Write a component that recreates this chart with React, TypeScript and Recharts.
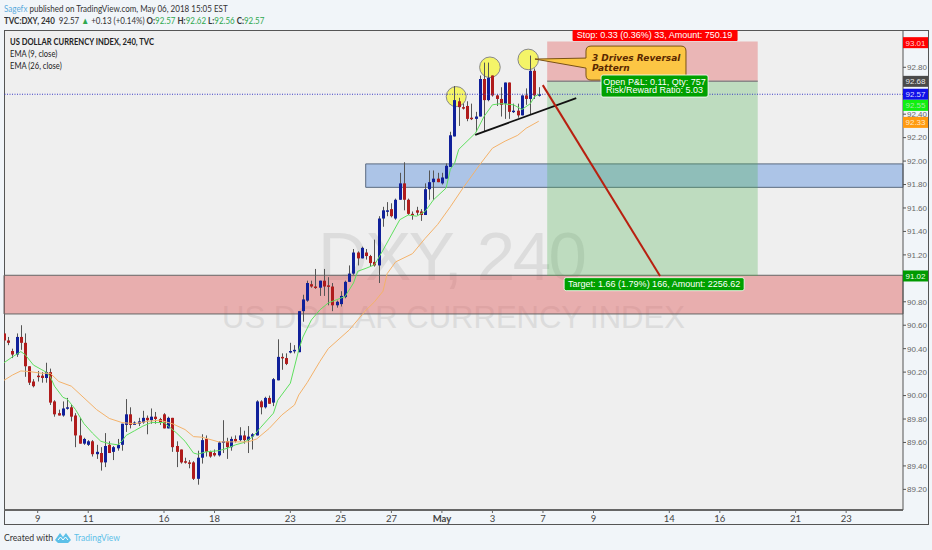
import { ComposedChart, Bar, Line, XAxis, YAxis, ReferenceArea, ReferenceLine, ReferenceDot } from "recharts";

const opens = [
  90.53,90.47,90.38,90.35,90.50,90.45,90.25,90.12,90.17,90.17,
  90.15,90.20,89.95,89.85,89.83,89.89,89.90,89.83,89.66,89.59,
  89.58,89.61,89.50,89.51,89.43,89.58,89.52,89.55,89.58,89.75,
  89.84,89.75,89.76,89.77,89.81,89.79,89.82,89.80,89.84,89.72,
  89.81,89.57,89.54,89.44,89.43,89.43,89.29,89.47,89.63,89.52,
  89.51,89.49,89.60,89.61,89.56,89.63,89.62,89.66,89.62,89.65,
  89.66,89.95,89.90,89.98,89.94,90.13,90.33,90.32,90.37,90.38,
  90.37,90.72,90.81,90.95,90.93,90.92,90.98,90.94,90.93,90.77,
  90.78,90.84,90.97,91.04,91.22,91.17,91.22,91.19,91.14,91.11,
  91.51,91.57,91.59,91.51,91.67,91.81,91.67,91.55,91.58,91.57,
  91.54,91.76,91.82,91.85,91.81,91.85,91.95,92.21,92.51,92.46,
  92.47,92.37,92.36,92.38,92.70,92.52,92.73,92.56,92.53,92.49,
  92.67,92.42,92.43,92.39,92.56,92.53,92.77,92.56,
];
const closes = [
  90.47,90.45,90.35,90.50,90.45,90.25,90.11,90.08,90.16,90.15,
  90.20,89.94,89.84,89.83,89.89,89.90,89.82,89.66,89.59,89.63,
  89.61,89.50,89.52,89.43,89.57,89.51,89.56,89.58,89.76,89.84,
  89.75,89.77,89.78,89.81,89.79,89.82,89.80,89.77,89.72,89.81,
  89.56,89.52,89.43,89.43,89.42,89.29,89.47,89.62,89.52,89.48,
  89.49,89.60,89.61,89.56,89.63,89.61,89.66,89.62,89.65,89.67,
  89.95,89.90,89.98,89.93,90.14,90.33,90.32,90.27,90.38,90.39,
  90.72,90.82,90.96,90.93,90.92,90.98,90.93,90.93,90.77,90.80,
  90.85,90.97,91.04,91.22,91.17,91.26,91.19,91.13,91.11,91.51,
  91.58,91.58,91.53,91.67,91.81,91.67,91.55,91.54,91.56,91.54,
  91.76,91.82,91.85,91.82,91.86,91.96,92.22,92.52,92.46,92.45,
  92.36,92.36,92.38,92.70,92.52,92.71,92.56,92.53,92.48,92.67,
  92.42,92.43,92.39,92.56,92.53,92.77,92.56,92.57,
];
const highs = [
  90.54,90.50,90.40,90.53,90.60,90.53,90.25,90.14,90.21,90.20,
  90.28,90.23,89.96,89.88,89.95,89.98,89.92,89.85,89.81,89.64,
  89.62,89.62,89.58,89.56,89.68,89.61,89.57,89.63,89.76,89.97,
  89.90,89.78,89.81,89.87,89.83,89.89,89.86,89.81,89.85,89.82,
  89.81,89.61,89.54,89.47,89.45,89.44,89.53,89.67,89.66,89.53,
  89.54,89.61,89.79,89.64,89.65,89.66,89.73,89.70,89.74,89.68,
  89.96,89.96,89.99,90.00,90.15,90.48,90.36,90.36,90.45,90.43,
  90.72,90.86,90.98,90.98,91.08,90.98,91.08,91.01,90.96,90.81,
  90.89,90.98,91.11,91.25,91.23,91.27,91.25,91.20,91.33,91.53,
  91.61,91.65,91.64,91.68,91.90,91.99,91.68,91.57,91.61,91.59,
  91.81,91.92,91.92,91.90,91.90,91.98,92.25,92.64,92.54,92.49,
  92.51,92.49,92.42,92.73,92.84,92.84,92.73,92.57,92.63,92.67,
  92.67,92.49,92.49,92.56,92.62,92.90,92.79,92.63,
];
const lows = [
  90.46,90.43,90.32,90.33,90.39,90.16,90.09,90.07,90.12,90.11,
  90.11,89.92,89.82,89.83,89.82,89.88,89.78,89.56,89.59,89.58,
  89.57,89.48,89.46,89.36,89.39,89.51,89.45,89.53,89.53,89.69,
  89.72,89.75,89.74,89.76,89.67,89.76,89.76,89.75,89.72,89.72,
  89.52,89.39,89.42,89.42,89.38,89.28,89.24,89.42,89.48,89.47,
  89.48,89.48,89.51,89.46,89.53,89.60,89.61,89.59,89.51,89.54,
  89.66,89.84,89.89,89.93,89.91,90.13,90.22,90.26,90.36,90.36,
  90.37,90.63,90.80,90.92,90.91,90.85,90.85,90.77,90.72,90.75,
  90.76,90.83,90.97,91.03,91.11,91.17,91.16,91.10,91.10,90.96,
  91.44,91.53,91.52,91.50,91.67,91.58,91.54,91.50,91.54,91.49,
  91.54,91.67,91.67,91.82,91.80,91.85,91.95,92.21,92.30,92.44,
  92.34,92.35,92.25,92.38,92.25,92.51,92.55,92.47,92.38,92.36,
  92.36,92.41,92.37,92.39,92.48,92.40,92.53,92.55,
];

// ema values at the bars where the line is visible
const ema9: [number, number][] = [
  [0,90.28],[2,90.33],[4,90.375],[5,90.35],[7,90.26],[9,90.22],[10,90.20],[11,90.16],[12,90.08],[14,89.985],
  [15,89.97],[17,89.88],[19,89.76],[21,89.68],[23,89.61],[25,89.59],[27,89.58],[28,89.61],[29,89.66],[31,89.70],
  [33,89.74],[35,89.77],[38,89.77],[39,89.74],[41,89.68],[43,89.61],[45,89.51],[46,89.50],[48,89.52],[51,89.53],
  [53,89.55],[55,89.58],[57,89.60],[59,89.645],[61,89.73],[64,89.85],[65,89.96],[68,90.105],[70,90.39],[71,90.50],
  [73,90.645],[75,90.73],[77,90.79],[81,90.845],[83,90.96],[84,91.06],[86,91.086],[88,91.115],[90,91.24],[92,91.37],
  [94,91.50],[96,91.54],[98,91.53],[100,91.57],[102,91.67],[105,91.77],[106,91.93],[107,91.98],[108,92.10],[112,92.24],
  [114,92.38],[116,92.48],[118,92.49],[121,92.48],[123,92.44],[125,92.49],[126,92.55],[127,92.57],
];
const ema26: [number, number][] = [
  [0,90.13],[2,90.175],[4,90.21],[6,90.205],[9,90.19],[11,90.19],[13,90.12],[16,90.08],[19,89.98],[22,89.88],
  [25,89.805],[28,89.77],[31,89.76],[34,89.78],[37,89.79],[40,89.76],[43,89.71],[45,89.65],[47,89.645],[51,89.605],
  [54,89.605],[58,89.605],[60,89.63],[63,89.72],[66,89.835],[69,89.92],[70,90.005],[72,90.11],[75,90.29],[77,90.40],
  [82,90.56],[86,90.73],[88,90.80],[90,90.89],[91,91.04],[93,91.14],[97,91.21],[100,91.34],[103,91.46],[106,91.61],
  [109,91.77],[113,91.97],[116,92.11],[119,92.17],[122,92.22],[124,92.28],[127,92.34],
];

const xTicks = [8, 20, 38, 50, 68, 80, 92, 104, 116, 128, 140, 158, 170, 188, 200];
const xLabels = ["9", "11", "16", "18", "23", "25", "27", "May", "3", "7", "9", "14", "16", "21", "23"];
// 91.00 and 92.60 sit fully behind the price tags in the original
const yTicks = [89.2, 89.4, 89.6, 89.8, 90, 90.2, 90.4, 90.6, 90.8, 91.2, 91.4, 91.6, 91.8, 92, 92.2, 92.4, 92.8];

const priceTags = [
  { price: 93.01, bg: "#ff0000", color: "#ffd0d0" },
  { price: 92.68, bg: "#4a4a4a", color: "#e8e8e8" },
  { price: 92.57, bg: "#1010e8", color: "#d8d8ff" },
  { price: 92.55, bg: "#10f010", color: "#a8e8a8", y: 92.475 },
  { price: 92.33, bg: "#ff9a10", color: "#ffe8c8" },
  { price: 91.02, bg: "#009a00", color: "#e8ffe8" },
];

const XMAX = 213.5;
const FONT = "Lato, 'Open Sans', sans-serif";
const BADGE_FONT = "'Liberation Sans', Arial, sans-serif";

const data = opens.map((o, i) => ({
  i,
  o,
  c: closes[i],
  h: highs[i],
  l: lows[i],
  ema9: ema9.find((p) => p[0] === i)?.[1] ?? null,
  ema26: ema26.find((p) => p[0] === i)?.[1] ?? null,
}));

function Candle(props: any) {
  const { x, y, width, height, payload } = props;
  const { o, c, h, l } = payload;
  const ppu = height / (h - l);
  const top = y + (h - Math.max(o, c)) * ppu;
  const bodyH = Math.max(Math.abs(o - c) * ppu, 1.5);
  const up = c >= o;
  const left = Math.round(x);
  return (
    <g>
      <rect x={left + 1} y={y} width={1} height={height} fill="#555" />
      <rect x={left} y={top} width={width} height={bodyH} fill={up ? "#10209a" : "#b01c1c"} />
    </g>
  );
}

function TimeTick({ x, y, payload }: any) {
  const k = xTicks.indexOf(payload.value);
  const label = xLabels[k];
  return (
    <text x={x} y={y + 7} textAnchor="middle" fontSize={9.5} fontFamily={FONT} fontWeight={label === "May" ? 700 : 400} fill="#444">
      {label}
    </text>
  );
}

function PriceTag({ cx, cy, bg, color, price }: any) {
  return (
    <g>
      <rect x={cx} y={cy - 5.5} width={25} height={11} fill={bg} />
      <text x={cx + 12.5} y={cy + 3} textAnchor="middle" fontSize={8} fontFamily={BADGE_FONT} fill={color}>
        {price.toFixed(2)}
      </text>
    </g>
  );
}

function Callout({ cx, cy }: any) {
  // cx, cy is the tip of the pointer
  const l = cx + 51, r = cx + 151, t = cy - 13, b = cy + 21;
  return (
    <g>
      <path
        d={`M${l + 5} ${t} H${r - 5} Q${r} ${t} ${r} ${t + 5} V${b - 5} Q${r} ${b} ${r - 5} ${b} H${l + 5} Q${l} ${b} ${l} ${b - 5} V${cy + 9} L${cx} ${cy} L${l} ${cy - 1} V${t + 5} Q${l} ${t} ${l + 5} ${t} Z`}
        fill="#fcc644"
        stroke="#7a5214"
        strokeWidth={1}
      />
      <text fontFamily="'DejaVu Sans', sans-serif" fontSize={9} fontWeight={700} fontStyle="italic" fill="#5a2800">
        <tspan x={l + 6} y={cy + 2}>3 Drives Reversal</tspan>
        <tspan x={l + 6} y={cy + 12}>Pattern</tspan>
      </text>
    </g>
  );
}

function GreenBadge({ cx, cy, w, h, lines }: any) {
  return (
    <g>
      <rect x={cx - w / 2} y={cy - h / 2} width={w} height={h} rx={2} fill="#00a000" stroke="#fff" strokeWidth={0.8} />
      {lines.map((t: string, k: number) => (
        <text key={t} x={cx} y={cy - (lines.length - 1) * 4.2 + k * 8.4 + 3.1} textAnchor="middle" fontSize={9} fontFamily={BADGE_FONT} fill="#fff">
          {t}
        </text>
      ))}
    </g>
  );
}

export default function App() {
  const squeeze = (s: number) => ({ transform: `scaleX(${s})`, transformOrigin: "left top" });
  return (
    <div style={{ position: "absolute", left: 0, top: 0, width: 932, height: 550, background: "#f1f5f9", overflow: "hidden", fontFamily: FONT }}>
      <div style={{ position: "absolute", left: 4, top: 3, fontSize: 9.5, color: "#333", whiteSpace: "nowrap", ...squeeze(0.845) }}>
        <span style={{ color: "#5cabdc" }}>Sagefx</span> published on TradingView.com, May 06, 2018 15:05 EST
      </div>
      <div style={{ position: "absolute", left: 4, top: 15, fontSize: 9.5, color: "#333", whiteSpace: "nowrap", ...squeeze(0.838) }}>
        <b>TVC:DXY, 240</b> &nbsp;92.57 <span style={{ color: "#2fa84f" }}>▲</span> +0.13 (+0.14%) <b>O:</b><span style={{ color: "#2fa84f" }}>92.57</span> <b>H:</b><span style={{ color: "#2fa84f" }}>92.62</span> <b>L:</b><span style={{ color: "#2fa84f" }}>92.56</span> <b>C:</b><span style={{ color: "#2fa84f" }}>92.57</span>
      </div>

      <div style={{ position: "absolute", left: 4, top: 30, width: 899, height: 480, background: "#efefef" }} />
      <div style={{ position: "absolute", left: 318, top: 216.6, fontSize: 69, letterSpacing: -2.5, color: "#dcdcdc", fontFamily: BADGE_FONT, whiteSpace: "nowrap" }}>DXY, 240</div>
      <div style={{ position: "absolute", left: 222, top: 299.5, fontSize: 31, color: "#dcdcdc", fontFamily: BADGE_FONT, whiteSpace: "nowrap" }}>US DOLLAR CURRENCY INDEX</div>
      <div style={{ position: "absolute", left: 4, top: 30, width: 923, height: 493, border: "1px solid #555" }} />

      <div style={{ position: "absolute", left: 10, top: 36, fontSize: 9.5, color: "#222", lineHeight: "12px", whiteSpace: "nowrap", ...squeeze(0.8) }}>
        <b>US DOLLAR CURRENCY INDEX, 240, TVC</b>
        <br />EMA (9, close)
        <br />EMA (26, close)
      </div>

      <div style={{ position: "absolute", left: 0, top: 0 }}>
        <ComposedChart width={932} height={550} data={data} margin={{ top: 30, right: 4, bottom: 26, left: 4 }}>
          <XAxis
            dataKey="i" type="number" domain={[0, XMAX]} ticks={xTicks} interval={0}
            tick={<TimeTick />} tickLine={{ stroke: "#666" }} tickSize={3} height={14}
            axisLine={{ stroke: "#666", strokeWidth: 2 }} allowDataOverflow
          />
          <YAxis
            orientation="right" type="number" domain={[89.024, 93.118]} ticks={yTicks} interval={0} width={25}
            tick={{ fill: "#666", fontSize: 8, fontFamily: BADGE_FONT }} tickSize={3} tickMargin={1}
            tickFormatter={(v: number) => v.toFixed(2)}
            tickLine={{ stroke: "#555" }} axisLine={{ stroke: "#555" }} allowDataOverflow
          />

          <ReferenceArea x1={0} x2={XMAX} y1={90.696} y2={91.026} fill="#e06060" fillOpacity={0.45} stroke="#666" />
          <ReferenceArea x1={85.9} x2={XMAX} y1={91.776} y2={91.976} fill="#6a9ae0" fillOpacity={0.5} stroke="#5a6a80" />
          <ReferenceArea x1={129} x2={179} y1={92.68} y2={93.02} fill="#e05050" fillOpacity={0.36} stroke="none" />
          <ReferenceArea x1={129} x2={179} y1={91.02} y2={92.68} fill="#4caf50" fillOpacity={0.3} stroke="none" />
          <ReferenceLine segment={[{ x: 129, y: 92.68 }, { x: 179, y: 92.68 }]} stroke="#888" strokeWidth={1.5} />
          <ReferenceLine y={92.57} stroke="#3b3bc4" strokeWidth={1} strokeDasharray="1 1.5" />

          <ReferenceDot x={107.4} y={92.55} r={10} fill="#f4f450" fillOpacity={0.85} stroke="#888" zIndex={250} />
          <ReferenceDot x={115.4} y={92.8} r={10.3} fill="#f4f450" fillOpacity={0.85} stroke="#888" zIndex={250} />
          <ReferenceDot x={124.5} y={92.867} r={10.3} fill="#f4f450" fillOpacity={0.85} stroke="#888" zIndex={250} />

          <Bar dataKey={(d: any) => [d.l, d.h]} barSize={3} shape={<Candle />} isAnimationActive={false} />
          <Line dataKey="ema9" stroke="#5fe05f" strokeWidth={1} dot={false} connectNulls isAnimationActive={false} />
          <Line dataKey="ema26" stroke="#f4b26a" strokeWidth={1} dot={false} connectNulls isAnimationActive={false} />

          <ReferenceLine segment={[{ x: 111.9, y: 92.224 }, { x: 135.9, y: 92.537 }]} stroke="#111" strokeWidth={1.8} />
          <ReferenceLine segment={[{ x: 127.95, y: 92.648 }, { x: 155.8, y: 91.02 }]} stroke="#b82010" strokeWidth={2} />

          <ReferenceDot x={126.1} y={92.87} shape={(p: any) => <Callout {...p} />} />
          <ReferenceDot x={154.5} y={93.05} ifOverflow="visible" shape={(p: any) => (
            <g>
              <rect x={p.cx - 82} y={30} width={165} height={11} rx={1} fill="#ff0000" />
              <text x={p.cx} y={38.4} textAnchor="middle" fontSize={9} fontFamily={BADGE_FONT} fill="#fff">Stop: 0.33 (0.36%) 33, Amount: 750.19</text>
            </g>
          )} />
          <ReferenceDot x={154.5} y={92.64} shape={(p: any) => <GreenBadge {...p} w={107} h={22} lines={["Open P&L: 0.11, Qty: 757", "Risk/Reward Ratio: 5.03"]} />} />
          <ReferenceDot x={154.4} y={90.95} shape={(p: any) => <GreenBadge {...p} w={180} h={13} lines={["Target: 1.66 (1.79%) 166, Amount: 2256.62"]} />} />

          {priceTags.map((t) => (
            <ReferenceDot key={t.price} x={XMAX} y={t.y ?? t.price} shape={(p: any) => <PriceTag {...p} bg={t.bg} color={t.color} price={t.price} />} />
          ))}
        </ComposedChart>
      </div>

      <div style={{ position: "absolute", left: 4, top: 531, fontSize: 10, color: "#333", whiteSpace: "nowrap", ...squeeze(0.87) }}>Created with</div>
      <svg style={{ position: "absolute", left: 55, top: 531 }} width="16" height="14" viewBox="0 0 16 14">
        <path d="M0 9 L5 2 L8 6 L11 2 L16 9 L13 12 H3 Z" fill="#5cc0e8" />
        <path d="M3 9 L5.5 6 L8 9 L10.5 6 L13 9" fill="none" stroke="#fff" strokeWidth={1} />
      </svg>
      <div style={{ position: "absolute", left: 74, top: 531, fontSize: 10, color: "#5cc0e8", whiteSpace: "nowrap", ...squeeze(0.85) }}>TradingView</div>
    </div>
  );
}
